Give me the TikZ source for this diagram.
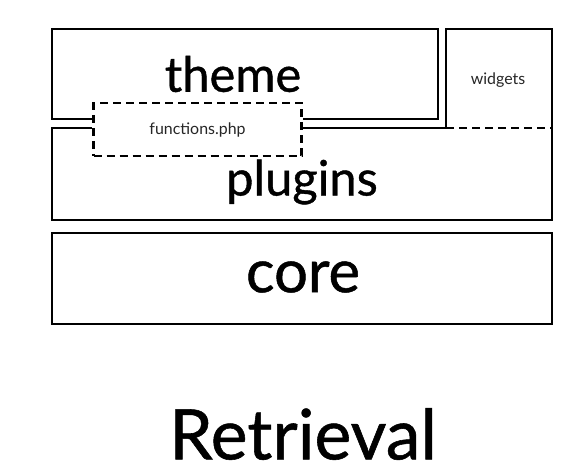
\documentclass[tikz,border=0pt]{standalone}
\usepackage{fontspec}
\setmainfont{Lato}
\newfontfamily\heavyfont[FakeBold=0.8]{Lato}

\begin{document}
\begin{tikzpicture}[
  x=1bp, y=-1bp,
  wall/.style={draw=black, line width=2.8bp, line join=miter},
  seam/.style={draw=black, line width=2.4bp, dash pattern=on 8bp off 5bp},
  big/.style={inner sep=0pt, font=\heavyfont\fontsize{49}{49}\selectfont},
  small/.style={inner sep=0pt, text=black!85, font=\fontsize{16}{16}\selectfont},
  fnbox/.style={seam, minimum width=208bp, minimum height=53bp, inner sep=0pt,
                text=black!85, font=\fontsize{16}{16}\selectfont},
]
\useasboundingbox[fill=white] (0,0) rectangle (577,474);

% ---------------- functions.php sits across the seam ----------------
\node[fnbox] (fn) at (197.5,129.5) {functions.php};
\coordinate (tb) at (0,119);
\coordinate (pt) at (0,128);

% ---------------- theme ----------------
\draw[wall] (fn.west |- tb) -- (52,119) -- (52,29) -- (438,29) -- (438,119) -- (fn.east |- tb);
\node[big] (theme) at (233,74) {theme};

% ---------------- plugins, with the widgets corner ----------------
\draw[wall] (fn.west |- pt) -- (52,128) -- (52,220) -- (552,220) -- (552,29) -- (446,29)
  -- (446,128) -- (fn.east |- pt);
\draw[seam] (446,128) -- (552,128);
\node[small] (widgets) at (498,80) {widgets};
\node[big] (plugins) at (302,182) {plugins};

% ---------------- core ----------------
\draw[wall] (52,233) rectangle (552,324);
\node[big, font=\heavyfont\fontsize{60}{60}\selectfont] (core) at (303,277) {core};

% ---------------- title ----------------
\node[big, font=\heavyfont\fontsize{70}{70}\selectfont] (title) at (303,434) {Retrieval};

\end{tikzpicture}
\end{document}
